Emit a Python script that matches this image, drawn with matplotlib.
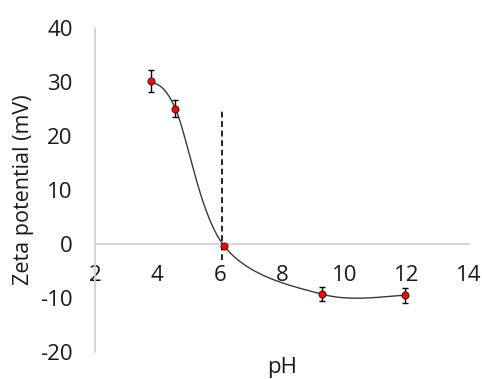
import numpy as np
import matplotlib
matplotlib.use("Agg")
import matplotlib.pyplot as plt

plt.rcParams['font.family'] = ['Open Sans', 'DejaVu Sans']
plt.rcParams['axes.unicode_minus'] = False

ph = [3.8, 4.58, 6.15, 9.3, 11.95]
zeta = [30.2, 25.1, -0.4, -9.3, -9.5]
zeta_err = [2.1, 1.5, 0.3, 1.3, 1.4]
iep_ph = 6.08
iep_range = [-3, 25]
xticks = [2, 4, 6, 8, 10, 12, 14]
yticks = [-20, -10, 0, 10, 20, 30, 40]


def excel_smooth(x, y, n=60):
    p = np.column_stack([x, y]).astype(float)
    ext = np.vstack([p[0], p, p[-1]])
    out = []
    for i in range(len(p) - 1):
        p0, p1, p2, p3 = ext[i], ext[i + 1], ext[i + 2], ext[i + 3]
        c1 = p1 + (p2 - p0) / 6.0
        c2 = p2 - (p3 - p1) / 6.0
        t = np.linspace(0, 1, n)[:, None]
        seg = ((1 - t) ** 3) * p1 + 3 * ((1 - t) ** 2) * t * c1 + 3 * (1 - t) * t ** 2 * c2 + t ** 3 * p2
        out.append(seg if i == 0 else seg[1:])
    s = np.vstack(out)
    return s[:, 0], s[:, 1]


fig = plt.figure(figsize=(4.82, 3.79), dpi=100)
ax = fig.add_axes([0.197, 0.071, 0.776, 0.855])
ax.set_xlim(2, 14)
ax.set_ylim(-20, 40)

sx, sy = excel_smooth(ph, zeta)
ax.plot(sx, sy, color='#3a3a3a', lw=1.0, zorder=3)
ax.errorbar(ph, zeta, yerr=zeta_err, fmt='none', ecolor='black', elinewidth=1.0,
            capsize=2.5, capthick=1.0, zorder=4)
ax.plot(ph, zeta, 'o', color='#ff0000', markeredgecolor='#202020', markeredgewidth=0.6,
        markersize=5.2, zorder=5)
ax.plot([iep_ph, iep_ph], iep_range, color='black', lw=1.2, dashes=(3.5, 2.2), zorder=2)

for s in ['top', 'right']:
    ax.spines[s].set_visible(False)
ax.spines['bottom'].set_position(('data', 0))
ax.spines['left'].set_color('#d0d0d0')
ax.spines['bottom'].set_color('#d0d0d0')
ax.spines['left'].set_linewidth(1.2)
ax.spines['bottom'].set_linewidth(1.2)

ax.set_xticks(xticks)
ax.set_yticks(yticks)
ax.tick_params(axis='both', length=0, labelsize=16, colors='#1a1a1a')
ax.tick_params(axis='x', pad=15)
ax.tick_params(axis='y', pad=16)
ax.set_xlabel('pH', fontsize=16, color='#1a1a1a', va='center')
ax.xaxis.set_label_coords(0.5, -0.048)
ax.set_ylabel('Zeta potential (mV)', fontsize=15.5, color='#1a1a1a', va='center')
ax.yaxis.set_label_coords(-0.19, 0.5)

fig.savefig('out.png', dpi=100, facecolor='white')
